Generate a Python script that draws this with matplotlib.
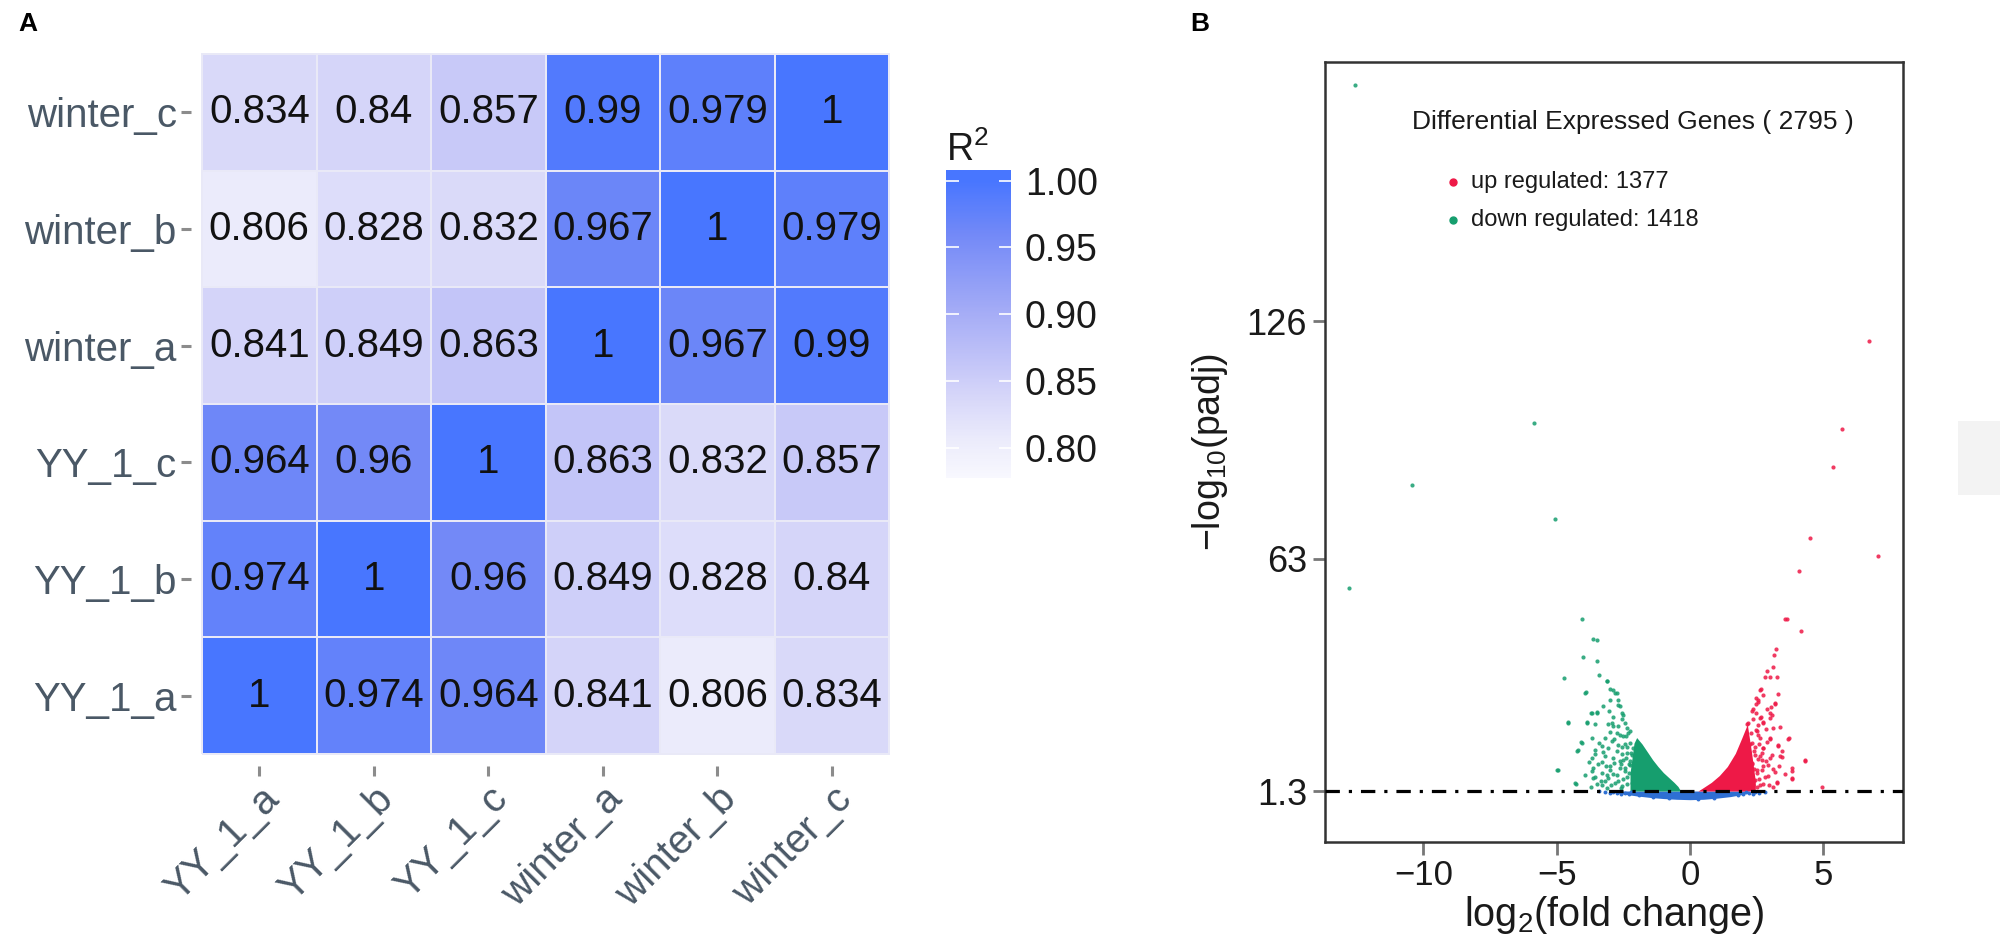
import numpy as np
import matplotlib
matplotlib.use("Agg")
import matplotlib.pyplot as plt
from matplotlib.colors import LinearSegmentedColormap, Normalize
from matplotlib.patches import Rectangle
from matplotlib.lines import Line2D

plt.rcParams['font.family'] = ['Liberation Sans', 'DejaVu Sans']
plt.rcParams['mathtext.fontset'] = 'custom'
plt.rcParams['mathtext.rm'] = 'Liberation Sans'
plt.rcParams['mathtext.it'] = 'Liberation Sans:italic'

# ---------------- Panel A data ----------------
samples = ["YY_1_a", "YY_1_b", "YY_1_c", "winter_a", "winter_b", "winter_c"]
r2_YY_1_a = [1, 0.974, 0.964, 0.841, 0.806, 0.834]
r2_YY_1_b = [0.974, 1, 0.96, 0.849, 0.828, 0.84]
r2_YY_1_c = [0.964, 0.96, 1, 0.863, 0.832, 0.857]
r2_winter_a = [0.841, 0.849, 0.863, 1, 0.967, 0.99]
r2_winter_b = [0.806, 0.828, 0.832, 0.967, 1, 0.979]
r2_winter_c = [0.834, 0.84, 0.857, 0.99, 0.979, 1]
cbar_ticks = [0.80, 0.85, 0.90, 0.95, 1.00]

# ---------------- Panel B data ----------------
deg_total = 2795
deg_up = 1377
deg_down = 1418
padj_line = 1.3
vol_xticks = [-10, -5, 0, 5]
vol_yticks = [1.3, 63, 126]
vol_ytick_labels = ["1.3", "63", "126"]

down_x = [-12.58, -5.86, -10.42, -5.07, -12.80, -4.06,
          -3.65, -3.50, -4.03, -3.50, -4.71, -3.40, -3.13, -3.94, -2.88, -2.75,
          -3.00, -2.69, -2.63, -2.50, -3.69, -3.50, -4.56, -3.88, -3.56, -3.06,
          -2.88, -2.38, -2.25, -4.06, -3.69, -3.31, -2.94, -2.63, -2.44, -4.25,
          -3.56, -3.19, -2.75, -2.38, -3.44, -3.00, -2.63, -3.69, -3.31, -2.88,
          -4.98, -3.63, -3.19, -2.81, -4.28, -3.50, -2.50, -2.44, -2.25, -2.13,
          -3.13, -3.91, -3.00, -2.81, -2.69, -3.71, -3.50, -4.56, -3.85, -2.94,
          -2.56, -2.44, -4.09, -3.19, -2.75, -2.31, -4.21, -3.56, -3.06, -2.56,
          -2.25, -4.94, -3.69, -3.31, -2.88, -2.50, -2.19, -3.63, -3.00, -2.63,
          -2.25, -3.56, -3.06, -2.75, -2.38, -4.31, -3.31, -2.56, -2.19,
          -3.35, -3.10, -2.95, -2.70, -2.60, -2.45, -2.35, -2.30, -2.20, -2.40,
          -2.55, -2.70, -2.85, -2.50, -2.35, -3.25, -3.40, -3.00, -2.70, -2.55,
          -3.25, -3.05, -2.90, -3.80, -3.95, -3.70, -3.10, -2.60, -2.85, -3.15,
          -2.40, -2.30]
down_y = [188.9, 99.1, 82.7, 73.5, 55.1, 47.1,
          41.7, 41.4, 37.0, 35.8, 31.2, 32.1, 30.5, 27.4, 28.0, 27.4,
          25.4, 25.6, 23.9, 21.5, 22.1, 22.1, 19.4, 19.4, 19.0, 19.0,
          18.6, 18.1, 17.2, 14.1, 15.5, 13.2, 14.6, 16.3, 13.7, 11.9,
          11.0, 10.6, 11.9, 11.5, 8.4, 8.0, 9.3, 6.6, 6.2, 5.7,
          6.9, 4.8, 3.9, 3.5, 3.1, 3.1, 4.4, 6.6, 9.3, 12.8,
          30.6, 27.5, 28.3, 27.2, 24.1, 21.9, 22.2, 19.5, 19.5, 19.3,
          22.0, 19.3, 14.4, 15.3, 16.6, 16.6, 12.2, 12.2, 12.6, 13.1,
          14.0, 7.0, 10.0, 9.1, 10.0, 9.5, 10.9, 7.3, 6.9, 7.3,
          8.2, 5.1, 4.7, 5.5, 5.1, 3.3, 2.9, 2.6, 3.3,
          4.0, 5.5, 3.0, 4.0, 8.5, 7.5, 3.2, 6.2, 11.5, 10.2,
          11.0, 13.5, 15.0, 15.8, 13.0, 11.6, 14.0, 17.0, 18.5, 20.5,
          24.0, 22.5, 21.0, 9.0, 5.5, 2.5, 2.2, 2.0, 8.8, 8.0,
          16.0, 8.5]

up_x = [6.70, 5.71, 5.38, 4.49, 7.04, 4.10, 3.56,
        3.65, 4.15, 3.23, 3.16, 3.13, 2.90, 2.81, 3.00, 3.25, 2.63, 2.56,
        2.48, 3.19, 2.31, 3.00, 2.63, 3.00, 2.75, 2.13, 2.50, 2.63, 3.69,
        3.00, 3.31, 2.25, 2.75, 2.63, 3.00, 3.38, 4.31, 2.31, 2.75, 3.13,
        3.81, 2.50, 2.94, 3.81, 2.38, 3.25, 2.75, 4.94, 2.00,
        2.65, 2.46, 2.56, 3.19, 2.38, 3.04, 2.46, 2.66, 3.06, 2.75, 2.19,
        2.46, 3.38, 2.56, 3.00, 3.71, 2.31, 3.31, 2.75, 2.44, 3.06, 3.44,
        4.31, 2.69, 2.31, 2.94, 3.81, 2.50, 3.19, 2.25, 2.81, 3.81, 2.44,
        3.25, 2.63,
        2.35, 2.50, 2.60, 2.70, 2.85, 2.40, 2.55, 2.40, 2.30, 2.60,
        2.90, 2.85, 2.55, 3.10, 2.90, 2.75, 3.35, 3.55, 3.10, 2.95,
        3.45, 2.70, 2.45, 2.35, 3.30, 2.20, 2.10, 2.05]
up_y = [120.8, 97.4, 87.3, 68.4, 63.7, 59.6, 46.9,
        46.9, 43.8, 38.9, 37.3, 34.2, 33.2, 31.6, 31.6, 31.6, 28.0, 25.6,
        24.3, 24.5, 22.5, 22.1, 20.8, 20.8, 19.4, 19.0, 17.2, 15.5, 15.2,
        15.0, 13.2, 13.7, 12.8, 10.6, 10.1, 10.6, 9.3, 8.8, 7.9, 7.1,
        6.6, 6.2, 5.3, 4.4, 4.0, 3.5, 3.1, 2.4, 3.1,
        28.3, 25.9, 25.0, 24.8, 23.2, 23.5, 21.9, 20.9, 21.5, 19.7, 19.3,
        17.5, 18.4, 16.2, 15.3, 15.3, 14.0, 13.5, 12.6, 10.9, 10.9, 10.4,
        9.5, 9.5, 8.6, 8.2, 7.3, 6.9, 6.4, 5.5, 5.1, 4.7, 4.2,
        3.8, 2.9,
        3.0, 2.3, 4.5, 6.8, 9.2, 7.2, 9.8, 11.8, 16.8, 13.8,
        14.2, 17.8, 18.8, 18.0, 23.0, 26.8, 8.0, 5.8, 2.3, 3.0,
        12.0, 11.5, 13.0, 20.5, 27.0, 5.0, 3.5, 10.5]

ns_x = [-3.4, -3.2, -3.0, -2.9, -2.75, -2.6, -2.45, -2.3, -2.2, -1.9, -1.4,
        -0.8, 0.3, 0.9, 1.8, 2.0, 2.1, 2.2, 2.35, 2.45, 2.6, 2.8]
ns_y = [1.2, 1.0, 0.9, 1.1, 0.7, 0.5, 0.9, 0.4, 1.0, 0.2, -0.4,
        -0.6, -0.9, -0.5, 0.3, 0.6, 1.0, 0.8, 0.5, 1.1, 0.9, 1.1]

# saturated (densely overplotted) parts of the clouds
down_dense_x = [-2.25, -2.1, -2.0, -1.8, -1.6, -1.4, -1.2, -1.0, -0.8, -0.6, -0.45, -0.35]
down_dense_top = [6.0, 14.0, 15.5, 13.8, 11.7, 9.6, 7.8, 6.2, 4.9, 3.6, 2.5, 1.3]
up_dense_x = [0.3, 0.5, 0.8, 1.1, 1.4, 1.7, 1.95, 2.15, 2.3, 2.45]
up_dense_top = [1.3, 2.2, 3.6, 5.4, 7.8, 11.3, 15.5, 19.0, 12.0, 4.0]
ns_dense_x = [-2.8, -2.4, -2.0, -1.5, -1.0, -0.5, 0.0, 0.5, 1.0, 1.5, 1.9, 2.2]
ns_dense_low = [0.8, 0.4, 0.0, -0.4, -0.7, -0.9, -1.0, -0.9, -0.6, -0.2, 0.3, 0.8]
ns_dense_top = [1.3, 1.3, 1.3, 1.3, 1.3, 1.3, 1.3, 1.3, 1.3, 1.3, 1.3, 1.3]

# ---------------- colours ----------------
RED = '#EE1947'
GREEN = '#169E6E'
BLUE = '#2E6FD3'
TICKLAB = '#4A5866'

fig = plt.figure(figsize=(20, 9.38), dpi=100)

# ================= Panel A: heatmap =================
mat = np.array([r2_YY_1_a, r2_YY_1_b, r2_YY_1_c, r2_winter_a, r2_winter_b, r2_winter_c])
vmin, vmax = 0.7775, 1.008
stops = [(0.7775, '#F8F8FE'), (0.806, '#EBEBFB'), (0.84, '#D5D5F9'), (0.863, '#C3C5F8'),
         (0.90, '#A6ADF6'), (0.96, '#7389F7'), (1.0, '#4876FF'), (1.008, '#4876FF')]
cmap = LinearSegmentedColormap.from_list(
    'r2', [((v - vmin) / (vmax - vmin), c) for v, c in stops])
norm = Normalize(vmin=vmin, vmax=vmax)

axA = fig.add_axes([0.0953, 0.1837, 0.355, 0.7712])
n = len(samples)
mesh = axA.pcolormesh(np.arange(n + 1), np.arange(n + 1), mat, cmap=cmap, norm=norm,
                      edgecolor='#E9E9F7', linewidth=1.2)
for i in range(n):
    for j in range(n):
        v = mat[i, j]
        axA.text(j + 0.5, i + 0.5, f"{v:g}", ha='center', va='center',
                 fontsize=29, color='#111111')
axA.set_xlim(-0.1, n + 0.1)
axA.set_ylim(-0.1, n + 0.1)
axA.set_xticks(np.arange(n) + 0.5)
axA.set_yticks(np.arange(n) + 0.5)
axA.set_xticklabels(samples, rotation=45, ha='right', va='top', rotation_mode='anchor',
                    fontsize=29, color=TICKLAB)
axA.set_yticklabels(samples, fontsize=29, color=TICKLAB)
axA.tick_params(axis='both', length=7, width=2.2, color='#8C8C8C', pad=3)
for s in axA.spines.values():
    s.set_visible(False)

# colourbar
cax = fig.add_axes([0.473, 0.4904, 0.0325, 0.3284])
cb = fig.colorbar(mesh, cax=cax, ticks=cbar_ticks)
cb.outline.set_visible(False)
cb.ax.set_yticklabels([f"{t:.2f}" for t in cbar_ticks])
cb.ax.tick_params(direction='in', length=9, width=1.2, color='white', labelsize=27,
                  labelcolor='#1A1A1A', left=True, right=True, pad=10)
fig.text(0.473, 1 - 150 / 938, r'$\mathregular{R^2}$', ha='left', va='center',
         fontsize=27, color='#1A1A1A')

# ================= Panel B: volcano =================
axB = fig.add_axes([0.6625, 0.1023, 0.289, 0.8316])
axB.fill_between(ns_dense_x, ns_dense_low, ns_dense_top, color=BLUE, lw=0, zorder=1)
axB.fill_between(down_dense_x, [padj_line] * len(down_dense_x), down_dense_top,
                 color=GREEN, lw=0, zorder=1)
axB.fill_between(up_dense_x, [padj_line] * len(up_dense_x), up_dense_top,
                 color=RED, lw=0, zorder=1)
axB.scatter(ns_x, ns_y, s=8, c=BLUE, lw=0, zorder=2)
axB.scatter(down_x, down_y, s=9, c=GREEN, lw=0, alpha=0.85, zorder=2)
axB.scatter(up_x, up_y, s=9, c=RED, lw=0, alpha=0.85, zorder=2)
axB.axhline(padj_line, color='black', lw=2.3, dashes=(4.5, 2.8, 1.0, 2.8), zorder=3)

axB.set_xlim(-13.69, 7.99)
axB.set_ylim(-12.25, 194.9)
axB.set_xticks(vol_xticks)
axB.set_yticks(vol_yticks)
axB.set_yticklabels(vol_ytick_labels)
axB.tick_params(axis='y', length=9, width=2.0, color='#777777', labelsize=26,
                labelcolor='#1A1A1A', pad=4)
axB.tick_params(axis='x', length=9, width=2.0, color='#777777', labelsize=25,
                labelcolor='#1A1A1A', pad=3)
for s in axB.spines.values():
    s.set_color('#333333')
    s.set_linewidth(1.8)
axB.set_xlabel(r'$\mathregular{log_2(fold\ change)}$', fontsize=28.5, color='#1A1A1A',
               va='bottom')
axB.xaxis.set_label_coords(0.5, -0.1205)
axB.set_ylabel(r'$\mathregular{-log_{10}(padj)}$', fontsize=27, color='#1A1A1A', labelpad=12)

fig.text(1412 / 2000, 1 - 122 / 938, f"Differential Expressed Genes ( {deg_total} )",
         ha='left', va='center', fontsize=19, color='#1A1A1A')
fig.add_artist(Line2D([1453 / 2000], [1 - 182 / 938], marker='o', ms=5, color=RED,
                      lw=0, transform=fig.transFigure))
fig.add_artist(Line2D([1453 / 2000], [1 - 220 / 938], marker='o', ms=5, color=GREEN,
                      lw=0, transform=fig.transFigure))
fig.text(1471 / 2000, 1 - 182 / 938, f"up regulated: {deg_up}", ha='left', va='center',
         fontsize=17, color='#1A1A1A')
fig.text(1471 / 2000, 1 - 220 / 938, f"down regulated: {deg_down}", ha='left', va='center',
         fontsize=17, color='#1A1A1A')

# panel letters
fig.text(18 / 2000, 1 - 24 / 938, 'A', fontsize=19, fontweight='bold', ha='left', va='center')
fig.text(1190 / 2000, 1 - 24 / 938, 'B', fontsize=19, fontweight='bold', ha='left', va='center')

# small grey box at the right edge
fig.add_artist(Rectangle((1958 / 2000, 1 - 495 / 938), 42 / 2000, 74 / 938,
                         transform=fig.transFigure, color='#F3F3F3', lw=0))

fig.savefig('out.png', dpi=100, facecolor='white')
